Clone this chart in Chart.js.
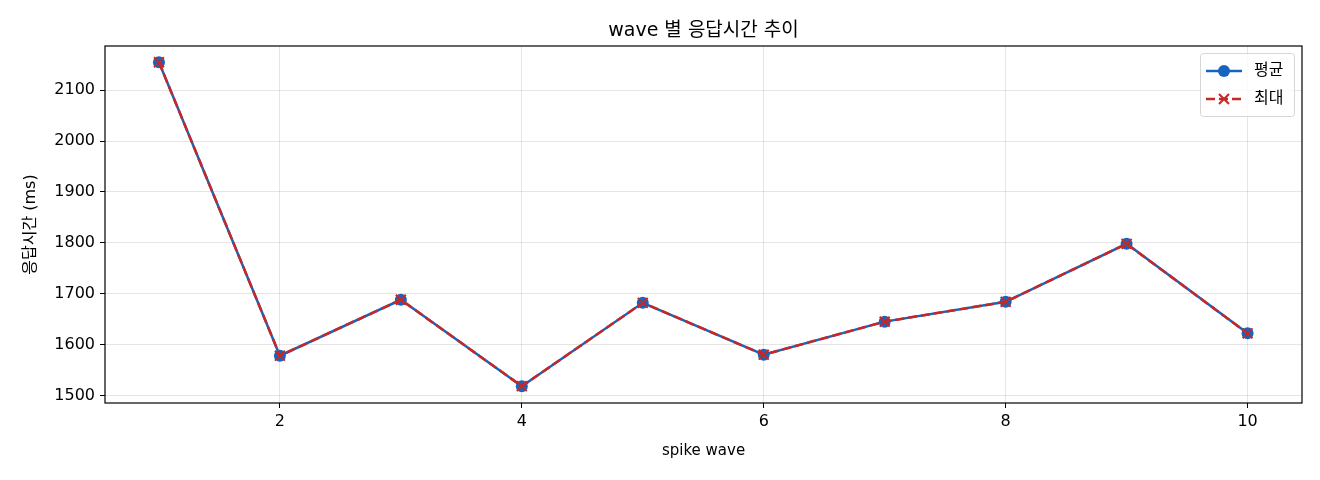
<!DOCTYPE html>
<html><head><meta charset="utf-8">
<script src="https://cdn.jsdelivr.net/npm/chart.js@4.4.1/dist/chart.umd.min.js"></script>
<style>html,body{margin:0;padding:0;background:#fff}#wrap{width:1320px;height:480px}</style>
</head><body><div id="wrap"><canvas id="c" width="1320" height="480"></canvas></div>
<script>
const waves = [1, 2, 3, 4, 5, 6, 7, 8, 9, 10];
const avgMs = [2155, 1578, 1688, 1518, 1682, 1580, 1645, 1684, 1798, 1622];
const maxMs = [2155, 1578, 1688, 1518, 1682, 1580, 1645, 1684, 1798, 1622];
const xTicks = [2, 4, 6, 8, 10];
const yTicks = [1500, 1600, 1700, 1800, 1900, 2000, 2100];
const titleText = 'wave 별 응답시간 추이';
const xLabel = 'spike wave';
const yLabel = '응답시간 (ms)';
const seriesNames = ['평균', '최대'];

const FONT = "'DejaVu Sans', 'Noto Sans CJK KR', sans-serif";
const BLUE = '#1565C0', RED = '#C62828';

const frame = {
  id: 'frame',
  afterDraw(chart) {
    const {ctx, chartArea: a} = chart;
    ctx.save();
    ctx.strokeStyle = '#000'; ctx.lineWidth = 1.2;
    ctx.strokeRect(a.left, a.top, a.right - a.left, a.bottom - a.top);
    // title
    ctx.fillStyle = '#000';
    ctx.font = '19px ' + FONT;
    ctx.textAlign = 'center'; ctx.textBaseline = 'alphabetic';
    ctx.fillText(titleText, (a.left + a.right) / 2, 36);
    // legend
    const bx = 1200, by = 53, bw = 94, bh = 63;
    ctx.fillStyle = 'rgba(255,255,255,0.8)';
    ctx.strokeStyle = '#d6d6d6'; ctx.lineWidth = 1;
    ctx.beginPath();
    ctx.roundRect(bx + 0.5, by + 0.5, bw, bh, 3);
    ctx.fill(); ctx.stroke();
    const ds = chart.data.datasets;
    const rows = [by + 18, by + 46];
    ds.forEach((d, i) => {
      const y = rows[i];
      ctx.strokeStyle = d.borderColor; ctx.lineWidth = 2.5;
      ctx.setLineDash(d.borderDash || []);
      ctx.beginPath(); ctx.moveTo(1206, y); ctx.lineTo(1242, y); ctx.stroke();
      ctx.setLineDash([]);
      if (d.pointStyle === 'circle') {
        ctx.fillStyle = d.borderColor;
        ctx.beginPath(); ctx.arc(1224, y, 6, 0, Math.PI * 2); ctx.fill();
      } else {
        ctx.lineWidth = 2;
        ctx.beginPath();
        ctx.moveTo(1219, y - 5); ctx.lineTo(1229, y + 5);
        ctx.moveTo(1229, y - 5); ctx.lineTo(1219, y + 5);
        ctx.stroke();
      }
      ctx.fillStyle = '#000'; ctx.font = '16px ' + FONT;
      ctx.textAlign = 'left'; ctx.textBaseline = 'middle';
      ctx.fillText(d.label, 1254, y);
    });
    ctx.restore();
  }
};

new Chart(document.getElementById('c'), {
  type: 'line',
  data: {
    datasets: [
      {
        label: seriesNames[0], order: 2,
        data: waves.map((w, i) => ({x: w, y: avgMs[i]})),
        borderColor: BLUE, backgroundColor: BLUE,
        borderWidth: 2.5, pointStyle: 'circle', pointRadius: 6,
        pointBorderWidth: 0, tension: 0
      },
      {
        label: seriesNames[1], order: 1,
        data: waves.map((w, i) => ({x: w, y: maxMs[i]})),
        borderColor: RED, backgroundColor: RED,
        borderWidth: 2.5, borderDash: [9, 4], pointStyle: 'cross', rotation: 45,
        pointRadius: 7, pointBorderWidth: 2, tension: 0
      }
    ]
  },
  options: {
    responsive: false, animation: false, devicePixelRatio: 1,
    layout: {padding: {top: 46, right: 18, left: 0, bottom: 0}},
    plugins: {legend: {display: false}, title: {display: false}, tooltip: {enabled: false}},
    scales: {
      x: {
        type: 'linear', min: 0.554, max: 10.45,
        afterBuildTicks: s => { s.ticks = xTicks.map(v => ({value: v})); },
        afterFit: s => { s.height = 77; },
        grid: {color: 'rgba(0,0,0,0.1)', lineWidth: 1, tickColor: '#000', tickLength: 5, drawTicks: true},
        border: {display: false},
        ticks: {color: '#000', font: {family: FONT, size: 16}, padding: 4, maxRotation: 0, callback: v => String(v)},
        title: {display: true, text: xLabel, color: '#000', font: {family: FONT, size: 15}, padding: {top: 4, bottom: 20}}
      },
      y: {
        type: 'linear', min: 1485, max: 2187,
        afterBuildTicks: s => { s.ticks = yTicks.map(v => ({value: v})); },
        afterFit: s => { s.width = 105; },
        grid: {color: 'rgba(0,0,0,0.1)', lineWidth: 1, tickColor: '#000', tickLength: 5, drawTicks: true},
        border: {display: false},
        ticks: {color: '#000', font: {family: FONT, size: 16}, padding: 5, callback: v => String(v)},
        title: {display: true, text: yLabel, color: '#000', font: {family: FONT, size: 16}, padding: {top: 21, bottom: 4}}
      }
    }
  },
  plugins: [frame]
});
</script></body></html>
